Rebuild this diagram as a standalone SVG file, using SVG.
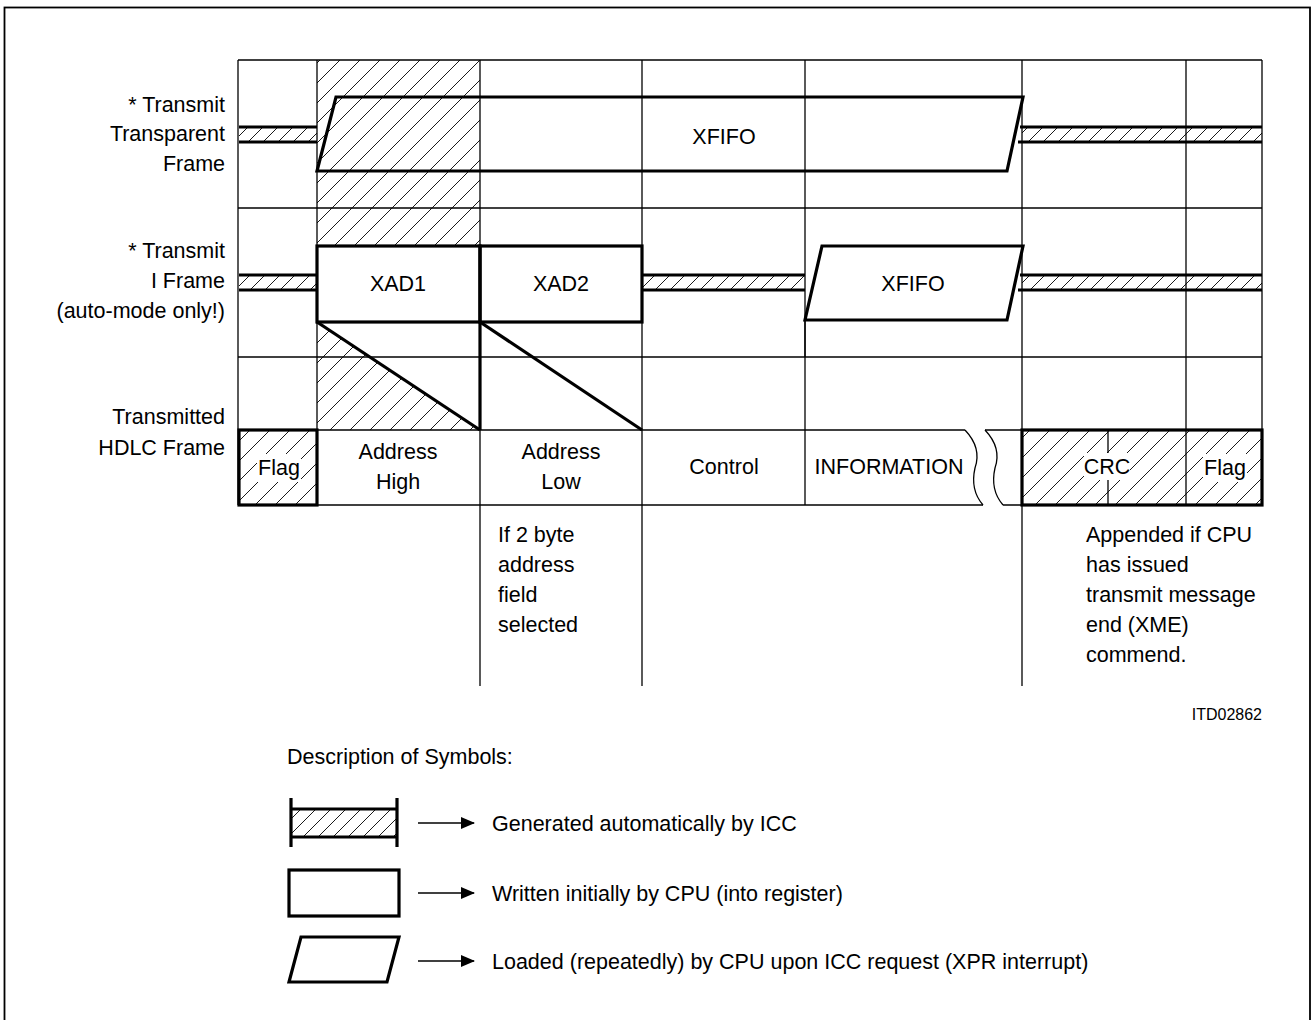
<svg xmlns="http://www.w3.org/2000/svg" width="1312" height="1020" viewBox="0 0 1312 1020">
<style>
text{font-family:"Liberation Sans",Arial,sans-serif;font-size:21.5px;fill:#000}
.r{text-anchor:end}.m{text-anchor:middle}
.thin{stroke:#000;stroke-width:1.3;fill:none}
.thick{stroke:#000;stroke-width:3.2;fill:none}
.small{font-size:16px}
.ko{fill:#fff}
</style>
<defs>
<pattern id="hatch" width="20" height="20" patternUnits="userSpaceOnUse">
<path d="M-5,25 L25,-5 M-5,5 L5,-5 M15,25 L25,15" stroke="#000" stroke-width="0.9"/>
</pattern>
<pattern id="bh" width="15" height="15" patternUnits="userSpaceOnUse">
<path d="M-4,19 L19,-4 M-4,4 L4,-4 M11,19 L19,11" stroke="#000" stroke-width="0.9"/>
</pattern>
<marker id="arr" markerWidth="14" markerHeight="12" refX="13" refY="6" orient="auto" markerUnits="userSpaceOnUse">
<path d="M0,0 L14,6 L0,12 Z" fill="#000"/>
</marker>
</defs>
<rect width="1312" height="1020" fill="#fff"/>
<rect x="4.5" y="7.5" width="1305.5" height="1030" fill="none" stroke="#000" stroke-width="1.8"/>

<!-- hatched areas -->
<g id="hatched-areas">
<rect x="317" y="60" width="163" height="186" fill="url(#hatch)"/>
<polygon points="317,322 317,430 480,430" fill="url(#hatch)"/>
<rect x="239" y="430" width="78" height="75" fill="url(#hatch)"/>
<rect x="1022" y="430" width="240" height="75" fill="url(#hatch)"/>
<line class="thin" x1="1108" y1="430" x2="1108" y2="505"/>
<rect class="ko" x="257" y="454" width="44" height="28"/>
<rect class="ko" x="1084" y="453" width="46" height="27"/>
<rect class="ko" x="1203" y="454" width="44" height="28"/>
</g>

<!-- grid -->
<g id="grid" class="thin">
<line x1="238" y1="60" x2="1262" y2="60"/>
<line x1="238" y1="208" x2="1262" y2="208"/>
<line x1="238" y1="357" x2="1262" y2="357"/>
<line x1="238" y1="430" x2="965" y2="430"/>
<line x1="985" y1="430" x2="1262" y2="430"/>
<line x1="238" y1="505" x2="983" y2="505"/>
<line x1="1003" y1="505" x2="1262" y2="505"/>
<line x1="238" y1="60" x2="238" y2="505"/>
<line x1="317" y1="60" x2="317" y2="505"/>
<line x1="480" y1="60" x2="480" y2="686"/>
<line x1="642" y1="60" x2="642" y2="686"/>
<line x1="805" y1="60" x2="805" y2="505"/>
<line x1="1022" y1="60" x2="1022" y2="686"/>
<line x1="1186" y1="60" x2="1186" y2="505"/>
<line x1="1262" y1="60" x2="1262" y2="505"/>
<path d="M965,430 Q982,448 975,468 Q970,490 983,505"/>
<path d="M985,430 Q1002,448 995,468 Q990,490 1003,505"/>
</g>

<!-- row labels -->
<g id="labels">
<text class="r" x="225" y="112">* Transmit</text>
<text class="r" x="225" y="141">Transparent</text>
<text class="r" x="225" y="171">Frame</text>
<text class="r" x="225" y="258">* Transmit</text>
<text class="r" x="225" y="288">I Frame</text>
<text class="r" x="225" y="318">(auto-mode only!)</text>
<text class="r" x="225" y="424">Transmitted</text>
<text class="r" x="225" y="455">HDLC Frame</text>
</g>

<!-- row 1: transparent frame -->
<g id="band-r1-left">
<rect x="239" y="127" width="78" height="15" fill="url(#bh)"/>
<line class="thick" x1="239" y1="127" x2="317" y2="127"/>
<line class="thick" x1="239" y1="142" x2="317" y2="142"/>
</g>
<g id="xfifo-r1">
<polygon class="thick" points="336,97 1023,97 1007,171 317,171"/>
<text class="m" x="724" y="144">XFIFO</text>
</g>
<g id="band-r1-right">
<rect x="1022" y="127" width="240" height="15" fill="url(#bh)"/>
<line class="thick" x1="1020" y1="127" x2="1262" y2="127"/>
<line class="thick" x1="1018" y1="142" x2="1262" y2="142"/>
</g>

<!-- row 2: I frame -->
<g id="band-r2-left">
<rect x="239" y="275" width="78" height="15" fill="url(#bh)"/>
<line class="thick" x1="239" y1="275" x2="317" y2="275"/>
<line class="thick" x1="239" y1="290" x2="317" y2="290"/>
</g>
<g id="xad1">
<rect class="thick" x="317" y="246" width="163" height="76" fill="#fff"/>
<text class="m" x="398" y="291">XAD1</text>
</g>
<g id="xad2">
<rect class="thick" x="480" y="246" width="162" height="76" fill="#fff"/>
<text class="m" x="561" y="291">XAD2</text>
</g>
<g id="band-r2-mid">
<rect x="642" y="275" width="163" height="15" fill="url(#bh)"/>
<line class="thick" x1="642" y1="275" x2="805" y2="275"/>
<line class="thick" x1="642" y1="290" x2="805" y2="290"/>
</g>
<g id="xfifo-r2">
<polygon class="thick" points="822,246 1023,246 1007,320 805,320" fill="#fff"/>
<line class="thin" x1="805" y1="320" x2="805" y2="357"/>
<text class="m" x="913" y="291">XFIFO</text>
</g>
<g id="band-r2-right">
<rect x="1022" y="275" width="240" height="15" fill="url(#bh)"/>
<line class="thick" x1="1020" y1="275" x2="1262" y2="275"/>
<line class="thick" x1="1018" y1="290" x2="1262" y2="290"/>
</g>

<!-- connectors -->
<g id="connectors" class="thick">
<line x1="317" y1="322" x2="480" y2="430"/>
<line x1="480" y1="322" x2="480" y2="430"/>
<line x1="480" y1="322" x2="642" y2="430"/>
</g>

<!-- row 3: HDLC frame -->
<g id="flag-left">
<rect class="thick" x="239" y="430" width="78" height="75"/>
<text class="m" x="279" y="475">Flag</text>
</g>
<g id="address-high">
<text class="m" x="398" y="459">Address</text>
<text class="m" x="398" y="489">High</text>
</g>
<g id="address-low">
<text class="m" x="561" y="459">Address</text>
<text class="m" x="561" y="489">Low</text>
</g>
<g id="control"><text class="m" x="724" y="474">Control</text></g>
<g id="information"><text class="m" x="889" y="474">INFORMATION</text></g>
<g id="crc-flag">
<rect class="thick" x="1022" y="430" width="240" height="75"/>
<text class="m" x="1107" y="474">CRC</text>
<text class="m" x="1225" y="475">Flag</text>
</g>

<!-- notes -->
<g id="note-address">
<text x="498" y="542">If 2 byte</text>
<text x="498" y="572">address</text>
<text x="498" y="602">field</text>
<text x="498" y="632">selected</text>
</g>
<g id="note-crc">
<text x="1086" y="542">Appended if CPU</text>
<text x="1086" y="572">has issued</text>
<text x="1086" y="602">transmit message</text>
<text x="1086" y="632">end (XME)</text>
<text x="1086" y="662">commend.</text>
</g>
<text class="r small" x="1262" y="720">ITD02862</text>

<!-- legend -->
<g id="legend">
<text x="287" y="764">Description of Symbols:</text>
<g id="legend-hatched">
<rect x="291" y="809" width="106" height="28" fill="url(#bh)"/>
<line class="thick" x1="291" y1="809" x2="397" y2="809"/>
<line class="thick" x1="291" y1="837" x2="397" y2="837"/>
<line class="thick" x1="291" y1="798" x2="291" y2="847"/>
<line class="thick" x1="397" y1="798" x2="397" y2="847"/>
<line class="thin" x1="418" y1="823" x2="474" y2="823" marker-end="url(#arr)"/>
<text x="492" y="831">Generated automatically by ICC</text>
</g>
<g id="legend-rect">
<rect class="thick" x="289" y="870" width="110" height="46"/>
<line class="thin" x1="418" y1="893" x2="474" y2="893" marker-end="url(#arr)"/>
<text x="492" y="901">Written initially by CPU (into register)</text>
</g>
<g id="legend-para">
<polygon class="thick" points="301,937 399,937 387,982 289,982"/>
<line class="thin" x1="418" y1="961" x2="474" y2="961" marker-end="url(#arr)"/>
<text x="492" y="969">Loaded (repeatedly) by CPU upon ICC request (XPR interrupt)</text>
</g>
</g>
</svg>
